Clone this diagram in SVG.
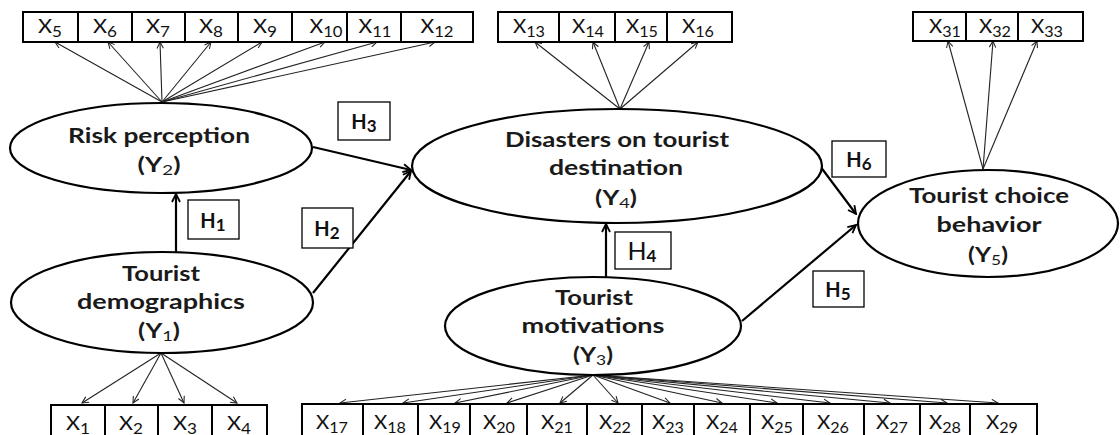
<svg xmlns="http://www.w3.org/2000/svg" width="1120" height="435" viewBox="0 0 1120 435">
<defs>
<style>
.bg{fill:#fff}
.box{fill:#fff;stroke:#000;stroke-width:2}
.ell{fill:#fff;stroke:#000;stroke-width:2.2}
.hbox{fill:#fff;stroke:#000;stroke-width:1.3}
.thin{stroke:#222;stroke-width:1.1;fill:none;marker-end:url(#ah)}
.thick{stroke:#000;stroke-width:2.2;fill:none;marker-end:url(#ahb)}
.xl{font-family:Lato,"Liberation Sans",sans-serif;font-size:19px;fill:#111;text-anchor:middle}
.sub{font-size:15px}
.ysub{font-size:14px;font-weight:normal}
.nl{font-family:Lato,"Liberation Sans",sans-serif;font-size:20px;font-weight:bold;fill:#1a1a1a;text-anchor:middle}
.hl{font-family:Lato,"Liberation Sans",sans-serif;font-size:20px;font-weight:bold;fill:#111;text-anchor:middle}
.hsub{font-size:17px}
</style>
<marker id="ah" viewBox="0 0 10 10" refX="9" refY="5" markerWidth="8" markerHeight="8" markerUnits="userSpaceOnUse" orient="auto">
<path d="M1,1 L9,5 L1,9" fill="none" stroke="#222" stroke-width="1.3"/>
</marker>
<marker id="ahb" viewBox="0 0 10 10" refX="9" refY="5" markerWidth="10" markerHeight="10" markerUnits="userSpaceOnUse" orient="auto">
<path d="M1,1 L9,5 L1,9" fill="none" stroke="#000" stroke-width="1.8"/>
</marker>
</defs>
<rect class="bg" x="0" y="0" width="1120" height="435"/>

<g id="connectors">
<path class="thin" d="M162,102 L55,42"/>
<path class="thin" d="M162,102 L108,42"/>
<path class="thin" d="M162,102 L160,42"/>
<path class="thin" d="M162,102 L211,42"/>
<path class="thin" d="M162,102 L262,42"/>
<path class="thin" d="M162,102 L325,42"/>
<path class="thin" d="M162,102 L377,42"/>
<path class="thin" d="M162,102 L435,42"/>
<path class="thin" d="M620,109 L535,42"/>
<path class="thin" d="M620,109 L593,42"/>
<path class="thin" d="M620,109 L649,42"/>
<path class="thin" d="M620,109 L698,42"/>
<path class="thin" d="M983,169 L948,41"/>
<path class="thin" d="M983,169 L993,41"/>
<path class="thin" d="M983,169 L1037,41"/>
<path class="thin" d="M161,353 L82,403"/>
<path class="thin" d="M161,353 L133,403"/>
<path class="thin" d="M161,353 L184,403"/>
<path class="thin" d="M161,353 L237,403"/>
<path class="thin" d="M593,375 L340,403"/>
<path class="thin" d="M593,375 L403,403"/>
<path class="thin" d="M593,375 L455,403"/>
<path class="thin" d="M593,375 L507,403"/>
<path class="thin" d="M593,375 L560,403"/>
<path class="thin" d="M593,375 L618,403"/>
<path class="thin" d="M593,375 L670,403"/>
<path class="thin" d="M593,375 L722,403"/>
<path class="thin" d="M593,375 L777,403"/>
<path class="thin" d="M593,375 L830,403"/>
<path class="thin" d="M593,375 L890,403"/>
<path class="thin" d="M593,375 L947,403"/>
<path class="thin" d="M593,375 L998,403"/>
<path class="thick" d="M176,252 L176,194"/>
<path class="thick" d="M313,293 L411,171"/>
<path class="thick" d="M313,147 L411,170"/>
<path class="thick" d="M606,277 L606,224"/>
<path class="thick" d="M742,321 L856,225"/>
<path class="thick" d="M820,166 L856,214"/>
</g>

<g id="x-top-left">
<rect class="box" x="23" y="12" width="450" height="30"/>
<path d="M78,12V42M132,12V42M185,12V42M238,12V42M292,12V42M347,12V42M401,12V42" stroke="#000" stroke-width="2"/>
<text class="xl" x="50" y="33" textLength="24" lengthAdjust="spacingAndGlyphs">X<tspan class="sub" dy="4">5</tspan></text>
<text class="xl" x="105" y="33" textLength="24" lengthAdjust="spacingAndGlyphs">X<tspan class="sub" dy="4">6</tspan></text>
<text class="xl" x="158" y="33" textLength="24" lengthAdjust="spacingAndGlyphs">X<tspan class="sub" dy="4">7</tspan></text>
<text class="xl" x="211" y="33" textLength="24" lengthAdjust="spacingAndGlyphs">X<tspan class="sub" dy="4">8</tspan></text>
<text class="xl" x="265" y="33" textLength="24" lengthAdjust="spacingAndGlyphs">X<tspan class="sub" dy="4">9</tspan></text>
<text class="xl" x="326" y="33" textLength="33" lengthAdjust="spacingAndGlyphs">X<tspan class="sub" dy="4">10</tspan></text>
<text class="xl" x="375" y="33" textLength="33" lengthAdjust="spacingAndGlyphs">X<tspan class="sub" dy="4">11</tspan></text>
<text class="xl" x="437" y="33" textLength="33" lengthAdjust="spacingAndGlyphs">X<tspan class="sub" dy="4">12</tspan></text>
</g>

<g id="x-top-mid">
<rect class="box" x="498" y="12" width="234" height="30"/>
<path d="M559,12V42M615,12V42M667,12V42" stroke="#000" stroke-width="2"/>
<text class="xl" x="529" y="33" textLength="32" lengthAdjust="spacingAndGlyphs">X<tspan class="sub" dy="4">13</tspan></text>
<text class="xl" x="588" y="33" textLength="32" lengthAdjust="spacingAndGlyphs">X<tspan class="sub" dy="4">14</tspan></text>
<text class="xl" x="642" y="33" textLength="32" lengthAdjust="spacingAndGlyphs">X<tspan class="sub" dy="4">15</tspan></text>
<text class="xl" x="698" y="33" textLength="32" lengthAdjust="spacingAndGlyphs">X<tspan class="sub" dy="4">16</tspan></text>
</g>

<g id="x-top-right">
<rect class="box" x="913" y="12" width="170" height="29"/>
<path d="M966,12V41M1018,12V41" stroke="#000" stroke-width="2"/>
<text class="xl" x="945" y="33" textLength="32" lengthAdjust="spacingAndGlyphs">X<tspan class="sub" dy="4">31</tspan></text>
<text class="xl" x="995" y="33" textLength="32" lengthAdjust="spacingAndGlyphs">X<tspan class="sub" dy="4">32</tspan></text>
<text class="xl" x="1047" y="33" textLength="32" lengthAdjust="spacingAndGlyphs">X<tspan class="sub" dy="4">33</tspan></text>
</g>

<g id="x-bottom-left">
<rect class="box" x="51" y="405" width="216" height="33"/>
<path d="M105,405V438M158,405V438M212,405V438" stroke="#000" stroke-width="2"/>
<text class="xl" x="78" y="430" textLength="24" lengthAdjust="spacingAndGlyphs">X<tspan class="sub" dy="4">1</tspan></text>
<text class="xl" x="131" y="430" textLength="24" lengthAdjust="spacingAndGlyphs">X<tspan class="sub" dy="4">2</tspan></text>
<text class="xl" x="185" y="430" textLength="24" lengthAdjust="spacingAndGlyphs">X<tspan class="sub" dy="4">3</tspan></text>
<text class="xl" x="239" y="430" textLength="24" lengthAdjust="spacingAndGlyphs">X<tspan class="sub" dy="4">4</tspan></text>
</g>

<g id="x-bottom-right">
<rect class="box" x="302" y="404" width="735" height="34"/>
<path d="M363,404V438M418,404V438M470,404V438M527,404V438M587,404V438M642,404V438M694,404V438M750,404V438M803,404V438M864,404V438M920,404V438M970,404V438" stroke="#000" stroke-width="2"/>
<text class="xl" x="332" y="429" textLength="32" lengthAdjust="spacingAndGlyphs">X<tspan class="sub" dy="4">17</tspan></text>
<text class="xl" x="390" y="429" textLength="32" lengthAdjust="spacingAndGlyphs">X<tspan class="sub" dy="4">18</tspan></text>
<text class="xl" x="445" y="429" textLength="32" lengthAdjust="spacingAndGlyphs">X<tspan class="sub" dy="4">19</tspan></text>
<text class="xl" x="499" y="429" textLength="32" lengthAdjust="spacingAndGlyphs">X<tspan class="sub" dy="4">20</tspan></text>
<text class="xl" x="557" y="429" textLength="32" lengthAdjust="spacingAndGlyphs">X<tspan class="sub" dy="4">21</tspan></text>
<text class="xl" x="615" y="429" textLength="32" lengthAdjust="spacingAndGlyphs">X<tspan class="sub" dy="4">22</tspan></text>
<text class="xl" x="668" y="429" textLength="32" lengthAdjust="spacingAndGlyphs">X<tspan class="sub" dy="4">23</tspan></text>
<text class="xl" x="722" y="429" textLength="32" lengthAdjust="spacingAndGlyphs">X<tspan class="sub" dy="4">24</tspan></text>
<text class="xl" x="777" y="429" textLength="32" lengthAdjust="spacingAndGlyphs">X<tspan class="sub" dy="4">25</tspan></text>
<text class="xl" x="833" y="429" textLength="32" lengthAdjust="spacingAndGlyphs">X<tspan class="sub" dy="4">26</tspan></text>
<text class="xl" x="892" y="429" textLength="32" lengthAdjust="spacingAndGlyphs">X<tspan class="sub" dy="4">27</tspan></text>
<text class="xl" x="945" y="429" textLength="32" lengthAdjust="spacingAndGlyphs">X<tspan class="sub" dy="4">28</tspan></text>
<text class="xl" x="1002" y="429" textLength="32" lengthAdjust="spacingAndGlyphs">X<tspan class="sub" dy="4">29</tspan></text>
</g>

<g id="risk-perception">
<ellipse class="ell" cx="161" cy="148" rx="151" ry="45"/>
<text class="nl" x="159" y="143" textLength="182" lengthAdjust="spacingAndGlyphs">Risk perception</text>
<text class="nl" x="159" y="172" textLength="43" lengthAdjust="spacingAndGlyphs">(Y<tspan class="ysub" dy="3">2</tspan><tspan dy="-3">)</tspan></text>
</g>

<g id="tourist-demographics">
<ellipse class="ell" cx="162" cy="302.5" rx="151" ry="50.5"/>
<text class="nl" x="161" y="281" textLength="78" lengthAdjust="spacingAndGlyphs">Tourist</text>
<text class="nl" x="161" y="309" textLength="168" lengthAdjust="spacingAndGlyphs">demographics</text>
<text class="nl" x="159" y="338" textLength="42" lengthAdjust="spacingAndGlyphs">(Y<tspan class="ysub" dy="3">1</tspan><tspan dy="-3">)</tspan></text>
</g>

<g id="disasters">
<ellipse class="ell" cx="617" cy="166" rx="205" ry="57"/>
<text class="nl" x="617" y="147" textLength="224" lengthAdjust="spacingAndGlyphs">Disasters on tourist</text>
<text class="nl" x="616" y="175" textLength="134" lengthAdjust="spacingAndGlyphs">destination</text>
<text class="nl" x="616" y="205" textLength="42" lengthAdjust="spacingAndGlyphs">(Y<tspan class="ysub" dy="3">4</tspan><tspan dy="-3">)</tspan></text>
</g>

<g id="tourist-motivations">
<ellipse class="ell" cx="593" cy="326" rx="148" ry="49"/>
<text class="nl" x="594" y="305" textLength="78" lengthAdjust="spacingAndGlyphs">Tourist</text>
<text class="nl" x="593" y="333" textLength="143" lengthAdjust="spacingAndGlyphs">motivations</text>
<text class="nl" x="593" y="362" textLength="40" lengthAdjust="spacingAndGlyphs">(Y<tspan class="ysub" dy="3">3</tspan><tspan dy="-3">)</tspan></text>
</g>

<g id="tourist-choice">
<ellipse class="ell" cx="988" cy="223.5" rx="130" ry="53.5"/>
<text class="nl" x="989" y="203" textLength="160" lengthAdjust="spacingAndGlyphs">Tourist choice</text>
<text class="nl" x="989" y="232" textLength="105" lengthAdjust="spacingAndGlyphs">behavior</text>
<text class="nl" x="988" y="262" textLength="40" lengthAdjust="spacingAndGlyphs">(Y<tspan class="ysub" dy="3">5</tspan><tspan dy="-3">)</tspan></text>
</g>

<g id="h1"><rect class="hbox" x="188" y="200" width="51" height="39"/><text class="hl" x="213" y="228">H<tspan class="hsub" dy="3">1</tspan></text></g>
<g id="h2"><rect class="hbox" x="302" y="208" width="51" height="40"/><text class="hl" x="327" y="236">H<tspan class="hsub" dy="3">2</tspan></text></g>
<g id="h3"><rect class="hbox" x="338" y="102" width="52" height="38"/><text class="hl" x="364" y="129">H<tspan class="hsub" dy="3">3</tspan></text></g>
<g id="h4"><rect class="hbox" x="615" y="232" width="56" height="37"/><text class="hl" style="font-weight:normal;font-size:25px" x="642" y="260">H<tspan class="hsub" style="font-weight:bold" dy="2">4</tspan></text></g>
<g id="h5"><rect class="hbox" x="813" y="271" width="51" height="36"/><text class="hl" x="838" y="297">H<tspan class="hsub" dy="3">5</tspan></text></g>
<g id="h6"><rect class="hbox" x="832" y="141" width="54" height="36"/><text class="hl" x="859" y="167">H<tspan class="hsub" dy="3">6</tspan></text></g>
</svg>
